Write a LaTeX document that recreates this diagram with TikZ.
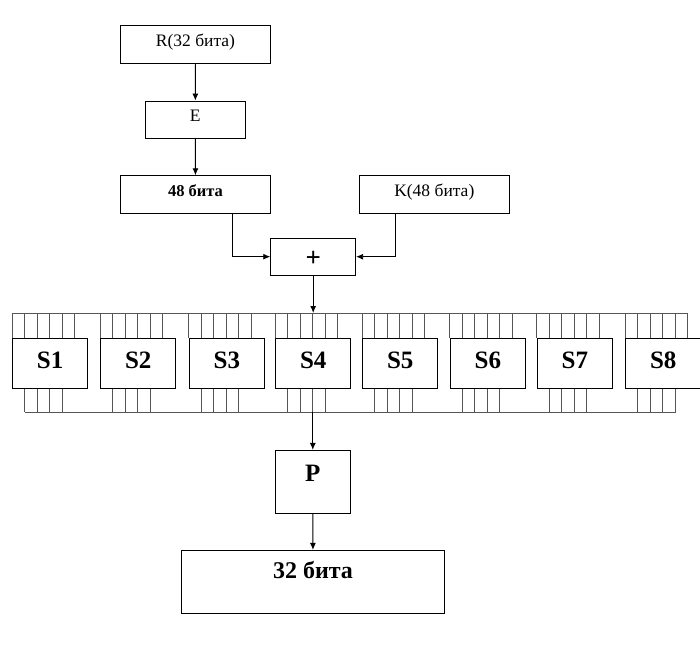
\documentclass[tikz,border=0pt]{standalone}
\usepackage{fontspec}
\setmainfont{Liberation Serif}
\usetikzlibrary{arrows.meta}
\definecolor{wirec}{RGB}{85,85,85}
\begin{document}
\begin{tikzpicture}[x=1pt,y=-1pt,
  box/.style={draw=black,line width=0.9pt,inner sep=0pt,fill=white},
  small/.style={font=\fontsize{17.5}{19}\selectfont,text height=10pt,text depth=6pt},
  smallb/.style={font=\fontsize{16.5}{19}\selectfont\bfseries,text height=10pt,text depth=6pt},
  sbox/.style={box,minimum width=75pt,minimum height=50pt,font=\fontsize{25}{28}\selectfont\bfseries,text height=17pt,text depth=7pt},
  wire/.style={draw=wirec,line width=1pt},
  arr/.style={draw=black,line width=0.9pt,-{Latex[length=7pt,width=6pt]}}]
\useasboundingbox (0,0) rectangle (700,650);
% top chain
\node[box,small,minimum width=149.6pt,minimum height=37.6pt] (R) at (195.5,44.5) {R(32 бита)};
\node[box,small,minimum width=100pt,minimum height=37pt] (E) at (195.3,119.5) {E};
\node[box,smallb,minimum width=149.6pt,minimum height=37.5pt] (B48) at (195.5,194.5) {48 бита};
\node[box,small,minimum width=150pt,minimum height=37.5pt] (K) at (434.3,194.5) {K(48 бита)};
\node[box,minimum width=85pt,minimum height=37.3pt,font=\fontsize{27}{28}\selectfont\bfseries,text height=20pt,text depth=0pt] (plus) at (313.2,256.7) {+};
\draw[arr] (R) -- (E);
\draw[arr] (E) -- (B48);
\draw[arr] ([xshift=37.2pt]B48.south) |- (plus.west);
\draw[arr] ([xshift=-39pt]K.south) |- (plus.east);
% buses
\coordinate (tbL) at (12.7,313);
\coordinate (tbR) at (688.2,313);
\coordinate (bbL) at (25.2,412);
\coordinate (bbR) at (675.7,412);
\draw[wire] (tbL) -- (tbR);
\draw[wire] (bbL) -- (bbR);
% S boxes
\foreach \lx [count=\i] in {12.7,100.7,189.3,275.7,362.7,450.3,537.3,625.7}{
  \node[sbox] (S\i) at (\lx+37.5,363.3) {S\i};
  \foreach \k in {0,...,5}{
    \draw[wire] ([xshift=\k*12.5pt]S\i.north west) -- ([xshift=\k*12.5pt]S\i.north west |- tbL);
  }
  \foreach \k in {1,...,4}{
    \draw[wire] ([xshift=\k*12.5pt]S\i.south west) -- ([xshift=\k*12.5pt]S\i.south west |- bbL);
  }
}
\draw[arr] (plus.south) -- (plus.south |- tbL);
% bottom
\node[box,minimum width=75pt,minimum height=62.7pt,font=\fontsize{25}{28}\selectfont\bfseries,text height=17pt,text depth=17pt] (P) at (312.8,481.7) {P};
\node[box,minimum width=262.6pt,minimum height=63pt,font=\fontsize{24}{28}\selectfont\bfseries,text height=17pt,text depth=24pt] (out) at (313,581.8) {32 бита};
\draw[arr] (P.north |- bbL) -- (P.north);
\draw[arr] (P) -- (out);
\end{tikzpicture}
\end{document}
